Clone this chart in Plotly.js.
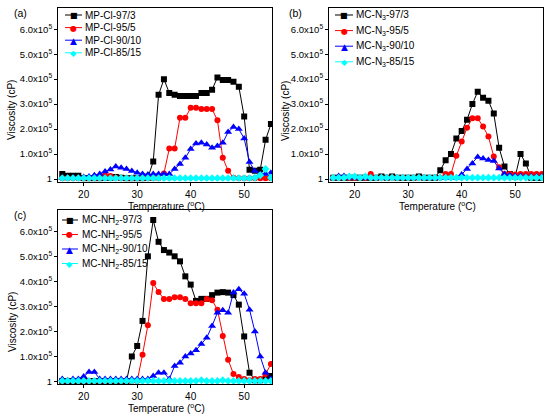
<!DOCTYPE html>
<html>
<head>
<meta charset="utf-8">
<script src="https://cdn.plot.ly/plotly-3.0.1.min.js"></script>
<style>html,body{margin:0;padding:0;background:#fff;}#chart{width:550px;height:415px;}</style>
</head>
<body>
<div id="chart"></div>
<script>
// Temperature (°C)
var temps = [16,17,18,19,20,21,22,23,24,25,26,27,28,29,30,31,32,33,34,35,36,37,38,39,40,41,42,43,44,45,46,47,48,49,50,51,52,53,54,55];

// Viscosity in units of 1e5 cP
// Panel (a) MP-Cl
var a97 = [0.2,0.13,0.13,0.13,0.03,0.03,0.03,0.03,0.05,0.05,0.08,0.05,0.03,0.03,0.03,0.03,0.05,0.7,3.37,4.0,3.45,3.37,3.32,3.32,3.32,3.32,3.45,3.45,3.58,4.07,3.97,3.97,3.9,3.7,2.5,0.37,0.33,0.37,1.57,2.2];
var a95 = [0.03,0.03,0.03,0.03,0.03,0.03,0.03,0.03,0.15,0.12,0.05,0.03,0.03,0.03,0.03,0.03,0.03,0.03,0.03,0.22,1.22,1.22,2.45,2.45,2.85,2.85,2.8,2.8,2.8,2.35,0.85,0.33,0.05,0.03,0.03,0.03,0.03,0.03,0.03,0.03];
var a90 = [0.05,0.05,0.05,0.05,0.08,0.1,0.15,0.2,0.3,0.38,0.5,0.45,0.4,0.32,0.25,0.2,0.18,0.2,0.2,0.2,0.2,0.4,0.6,0.85,1.2,1.42,1.45,1.38,1.25,1.32,1.45,1.88,2.08,2.0,1.62,0.68,0.32,0.2,0.2,0.25];
var a85 = [0.03,0.03,0.03,0.03,0.03,0.03,0.03,0.03,0.03,0.03,0.03,0.03,0.03,0.03,0.03,0.03,0.03,0.03,0.03,0.03,0.03,0.03,0.03,0.03,0.03,0.03,0.03,0.03,0.03,0.03,0.03,0.03,0.03,0.03,0.03,0.03,0.05,0.15,0.4,0.05];
// Panel (b) MC-N3
var b97 = [0.05,0.05,0.05,0.05,0.05,0.05,0.05,0.05,0.05,0.1,0.05,0.1,0.05,0.05,0.05,0.05,0.1,0.05,0.05,0.05,0.35,0.75,1.0,1.62,1.92,2.37,3.0,3.5,3.25,3.13,2.62,1.25,0.5,0.2,0.1,1.0,0.62,0.05,0.05,0.05];
var b95 = [0.05,0.05,0.05,0.05,0.05,0.05,0.05,0.2,0.05,0.05,0.05,0.05,0.05,0.05,0.05,0.05,0.05,0.05,0.05,0.05,0.05,0.2,0.2,0.93,1.5,2.05,2.43,2.43,2.1,1.7,0.9,0.47,0.2,0.2,0.18,0.2,0.2,0.2,0.2,0.2];
var b90 = [0.05,0.12,0.12,0.05,0.08,0.05,0.05,0.05,0.05,0.05,0.05,0.05,0.05,0.05,0.05,0.05,0.05,0.05,0.05,0.05,0.05,0.05,0.05,0.05,0.18,0.4,0.62,0.88,0.82,0.76,0.72,0.42,0.2,0.15,0.12,0.12,0.1,0.1,0.1,0.1];
var b85 = [0.05,0.05,0.05,0.1,0.1,0.05,0.1,0.05,0.05,0.05,0.05,0.05,0.05,0.05,0.05,0.05,0.05,0.05,0.05,0.05,0.05,0.05,0.05,0.05,0.05,0.05,0.05,0.05,0.05,0.05,0.05,0.05,0.05,0.05,0.05,0.05,0.05,0.05,0.05,0.05];
// Panel (c) MC-NH2
var c97 = [0.02,0.02,0.02,0.02,0.02,0.02,0.02,0.02,0.02,0.02,0.02,0.02,0.02,1.0,1.42,2.42,5.0,6.45,5.58,5.25,5.15,5.0,4.8,4.2,3.87,3.22,3.3,3.3,3.45,3.55,3.57,3.55,3.45,3.07,1.8,0.35,0.05,0.05,0.12,0.22];
var c95 = [0.02,0.02,0.02,0.02,0.02,0.02,0.02,0.02,0.02,0.02,0.02,0.02,0.02,0.02,0.02,1.07,2.25,3.93,3.57,3.3,3.3,3.37,3.37,3.3,3.13,3.13,3.13,3.3,3.25,2.87,1.82,0.87,0.3,0.18,0.1,0.05,0.1,0.1,0.3,0.7];
var c90 = [0.1,0.05,0.1,0.1,0.2,0.38,0.38,0.1,0.1,0.1,0.1,0.1,0.1,0.1,0.1,0.1,0.1,0.22,0.35,0.35,0.1,0.62,0.75,1.0,1.12,1.25,1.5,1.75,2.22,2.75,2.85,2.75,3.55,3.68,3.5,2.87,2.0,1.0,0.35,0.1];
var c85 = [0.02,0.02,0.02,0.02,0.02,0.02,0.02,0.02,0.02,0.02,0.02,0.02,0.02,0.02,0.02,0.02,0.02,0.02,0.02,0.02,0.02,0.02,0.02,0.02,0.02,0.02,0.05,0.02,0.02,0.02,0.05,0.02,0.02,0.02,0.02,0.02,0.02,0.02,0.02,0.02];

var namesA = ['MP-Cl-97/3','MP-Cl-95/5','MP-Cl-90/10','MP-Cl-85/15'];
var namesB = ['MC-N<sub>3</sub>-97/3','MC-N<sub>3</sub>-95/5','MC-N<sub>3</sub>-90/10','MC-N<sub>3</sub>-85/15'];
var namesC = ['MC-NH<sub>2</sub>-97/3','MC-NH<sub>2</sub>-95/5','MC-NH<sub>2</sub>-90/10','MC-NH<sub>2</sub>-85/15'];

var yTickVals = [0,1,2,3,4,5,6];
var yTickText = ['1','1.0x10<sup>5</sup>','2.0x10<sup>5</sup>','3.0x10<sup>5</sup>','4.0x10<sup>5</sup>','5.0x10<sup>5</sup>','6.0x10<sup>5</sup>'];
var xTickVals = [20,30,40,50];

var colors = ['#000000','#ff0000','#0000ff','#00ffff'];
var symbols = ['square','circle','triangle-up','diamond'];
var glyphs = ['\u25A0','\u25CF','\u25B2','\u25C6'];
var sizes = [6,6,7,6];

var FONT = 'Liberation Sans, Arial, sans-serif';
var W = 550, H = 415;
var traces = [];
function addPanel(series, names, xa, ya){
  for (var i=0;i<series.length;i++){
    traces.push({
      x: temps, y: series[i],
      type:'scatter', mode:'lines+markers', name: names[i], showlegend:false,
      xaxis: xa, yaxis: ya,
      line:{color:colors[i], width:1},
      marker:{color:colors[i], symbol:symbols[i], size:sizes[i]}
    });
  }
}
addPanel([a97,a95,a90,a85], namesA, 'x', 'y');
addPanel([b97,b95,b90,b85], namesB, 'x2', 'y2');
addPanel([c97,c95,c90,c85], namesC, 'x3', 'y3');

function xax(dom, anchor){
  return {domain:dom, anchor:anchor, range:[15.2,55.2], tickvals:xTickVals,
    showgrid:false, zeroline:false, showline:true, linecolor:'#000', linewidth:1, mirror:true,
    ticks:'outside', ticklen:3, tickcolor:'#000', tickfont:{family:FONT,size:10,color:'#000'}};
}
function yax(dom, anchor){
  return {domain:dom, anchor:anchor, range:[-0.1,6.85], tickvals:yTickVals, ticktext:yTickText,
    showgrid:false, zeroline:false, showline:true, linecolor:'#000', linewidth:1, mirror:true,
    ticks:'outside', ticklen:3, tickcolor:'#000', tickfont:{family:FONT,size:9.5,color:'#000'}};
}
var xA=[58/W,272/W], xB=[329/W,543/W];
var yTop=[(H-181.5)/H,(H-8)/H], yBot=[(H-384)/H,(H-210)/H];

var annotations = [];
var shapes = [];
function px(x){return x/W;}
function py(y){return (H-y)/H;}
function txt(t, x, y, opts){
  var a = {text:t, x:px(x), y:py(y), xref:'paper', yref:'paper', xanchor:'left', yanchor:'middle',
    showarrow:false, font:{family:FONT,size:10,color:'#000'}};
  for (var k in opts) a[k]=opts[k];
  annotations.push(a);
}
// manual legends (compact rows as in the reference)
function legend(names, lx0, lx1, tx, y0, dy){
  for (var i=0;i<names.length;i++){
    var y = y0 + dy*i;
    shapes.push({type:'line', xref:'paper', yref:'paper', x0:px(lx0), x1:px(lx1), y0:py(y), y1:py(y),
      line:{color:colors[i], width:1}});
    annotations.push({text:glyphs[i], x:px((lx0+lx1)/2), y:py(y+0.5), xref:'paper', yref:'paper',
      xanchor:'center', yanchor:'middle', showarrow:false,
      font:{family:'DejaVu Sans', size:(i===2?9:8), color:colors[i]}});
    txt(names[i], tx, y, {});
  }
}
legend(namesA, 65, 82, 83, 15, 12.6);
legend(namesB, 335, 353, 354, 15, 15.6);
legend(namesC, 62, 78, 80, 220, 14.5);

// panel labels
txt('(a)', 12, 13, {font:{family:FONT,size:10.5,color:'#000'}});
txt('(b)', 287, 13, {font:{family:FONT,size:10.5,color:'#000'}});
txt('(c)', 12, 215, {font:{family:FONT,size:10.5,color:'#000'}});
// axis titles
var tfont = {family:FONT,size:10,color:'#000'};
txt('Temperature (<sup>o</sup>C)', 166, 206, {xanchor:'center', font:tfont});
txt('Temperature (<sup>o</sup>C)', 437, 206, {xanchor:'center', font:tfont});
txt('Temperature (<sup>o</sup>C)', 166, 408, {xanchor:'center', font:tfont});
txt('Viscosity (cP)', 12, 110, {xanchor:'center', textangle:-90, font:tfont});
txt('Viscosity (cP)', 285, 111, {xanchor:'center', textangle:-90, font:tfont});
txt('Viscosity (cP)', 12, 322, {xanchor:'center', textangle:-90, font:tfont});

var layout = {
  width:W, height:H, margin:{l:0,r:0,t:0,b:0},
  paper_bgcolor:'#fff', plot_bgcolor:'#fff', showlegend:false,
  xaxis: xax(xA,'y'), yaxis: yax(yTop,'x'),
  xaxis2: xax(xB,'y2'), yaxis2: yax(yTop,'x2'),
  xaxis3: xax(xA,'y3'), yaxis3: yax(yBot,'x3'),
  annotations: annotations, shapes: shapes
};
Plotly.newPlot('chart', traces, layout, {displayModeBar:false, staticPlot:true});
</script>
</body>
</html>
